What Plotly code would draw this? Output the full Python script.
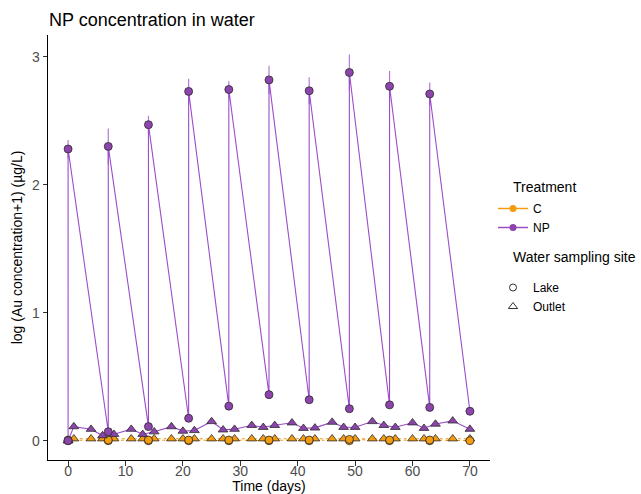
import plotly.graph_objects as go

# ---------------- data ----------------
# Lake, NP treatment (before and after each dose)
lake_np_day = [0, 0, 7, 7, 14, 14, 21, 21, 28, 28, 35, 35, 42, 42, 49, 49, 56, 56, 63, 63, 70]
lake_np_val = [0.0, 2.28, 0.07, 2.30, 0.11, 2.47, 0.175, 2.73, 0.27, 2.745, 0.36, 2.82,
               0.32, 2.735, 0.25, 2.878, 0.28, 2.77, 0.26, 2.71, 0.23]
lake_np_err = [0.0, 0.07, 0.0, 0.14, 0.0, 0.07, 0.0, 0.10, 0.0, 0.065, 0.0, 0.11,
               0.0, 0.105, 0.0, 0.14, 0.0, 0.12, 0.0, 0.09, 0.0]

# Lake, C treatment
lake_c_day = [0, 0, 7, 7, 14, 14, 21, 21, 28, 28, 35, 35, 42, 42, 49, 49, 56, 56, 63, 63, 70]
lake_c_val = [0.0, 0.005, 0.0, 0.005, 0.0, 0.005, 0.0, 0.005, 0.0, 0.005, 0.0, 0.005,
              0.0, 0.005, 0.0, 0.01, 0.0, 0.005, 0.0, 0.005, 0.0]

# Outlet
outlet_day = [0, 1, 4, 6, 8, 11, 13, 15, 18, 20, 22, 25, 27, 29, 32, 34, 36, 39, 41, 43,
              46, 48, 50, 53, 55, 57, 60, 62, 64, 67, 70]
outlet_np_val = [0.0, 0.11, 0.09, 0.04, 0.05, 0.09, 0.05, 0.07, 0.11, 0.075, 0.08, 0.15,
                 0.085, 0.09, 0.12, 0.105, 0.12, 0.14, 0.097, 0.10, 0.145, 0.105, 0.105,
                 0.15, 0.12, 0.105, 0.14, 0.097, 0.13, 0.155, 0.09]
outlet_c_val = [0.0, 0.015, 0.015, 0.015, 0.015, 0.015, 0.015, 0.015, 0.015, 0.015, 0.015,
                0.015, 0.015, 0.015, 0.015, 0.015, 0.015, 0.015, 0.015, 0.015, 0.015,
                0.015, 0.015, 0.015, 0.015, 0.015, 0.015, 0.015, 0.015, 0.015, 0.015]

x_ticks = [0, 10, 20, 30, 40, 50, 60, 70]
y_ticks = [0, 1, 2, 3]

# ---------------- styles ----------------
ORANGE = "#F39C12"
PURPLE = "#8E44AD"
PURPLE_LINE = "#9B4DCA"
EDGE = "#2b2b2b"
FONT = "Liberation Sans, Arial, sans-serif"

W, H = 641, 494
ML, MR, MT, MB = 48, 151, 35, 34
PW, PH = W - ML - MR, H - MT - MB


def px_x(p):
    return (p - ML) / PW


def px_y(p):
    return (H - MB - p) / PH


fig = go.Figure()

# lines (C)
fig.add_trace(go.Scatter(x=lake_c_day, y=lake_c_val, mode="lines",
                         line=dict(color=ORANGE, width=1.1, dash="3px,3px"),
                         showlegend=False, hoverinfo="skip"))
fig.add_trace(go.Scatter(x=outlet_day, y=outlet_c_val, mode="lines",
                         line=dict(color=ORANGE, width=1.1, dash="3px,3px"),
                         showlegend=False, hoverinfo="skip"))
# lines (NP)
fig.add_trace(go.Scatter(x=outlet_day, y=outlet_np_val, mode="lines",
                         line=dict(color=PURPLE_LINE, width=1.1),
                         showlegend=False, hoverinfo="skip"))
fig.add_trace(go.Scatter(x=lake_np_day, y=lake_np_val, mode="lines",
                         line=dict(color=PURPLE_LINE, width=1.1),
                         error_y=dict(type="data", array=lake_np_err, visible=True,
                                      color="#B37BD6", thickness=1.2, width=0),
                         showlegend=False, hoverinfo="skip"))

# points C
fig.add_trace(go.Scatter(x=outlet_day, y=outlet_c_val, mode="markers",
                         marker=dict(symbol="triangle-up", size=8.5, color=ORANGE,
                                     line=dict(color=EDGE, width=0.8)),
                         showlegend=False))
fig.add_trace(go.Scatter(x=lake_c_day, y=lake_c_val, mode="markers",
                         marker=dict(symbol="circle", size=8, color=ORANGE,
                                     line=dict(color=EDGE, width=0.8)),
                         showlegend=False))
# points NP
fig.add_trace(go.Scatter(x=outlet_day, y=outlet_np_val, mode="markers",
                         marker=dict(symbol="triangle-up", size=8.5, color=PURPLE,
                                     line=dict(color=EDGE, width=0.8)),
                         showlegend=False))
fig.add_trace(go.Scatter(x=lake_np_day, y=lake_np_val, mode="markers",
                         marker=dict(symbol="circle", size=8, color=PURPLE,
                                     line=dict(color=EDGE, width=0.8)),
                         showlegend=False))

# legend entries: Treatment
fig.add_trace(go.Scatter(x=[None], y=[None], mode="lines+markers", name="C",
                         line=dict(color=ORANGE, width=1.5),
                         marker=dict(symbol="circle", size=7, color=ORANGE),
                         legend="legend"))
fig.add_trace(go.Scatter(x=[None], y=[None], mode="lines+markers", name="NP",
                         line=dict(color=PURPLE_LINE, width=1.5),
                         marker=dict(symbol="circle", size=7, color=PURPLE),
                         legend="legend"))
# legend entries: site
fig.add_trace(go.Scatter(x=[None], y=[None], mode="markers", name="Lake",
                         marker=dict(symbol="circle-open", size=7, color="black",
                                     line=dict(width=0.8)),
                         legend="legend2"))
fig.add_trace(go.Scatter(x=[None], y=[None], mode="markers", name="Outlet",
                         marker=dict(symbol="triangle-up-open", size=8, color="black",
                                     line=dict(width=0.8)),
                         legend="legend2"))

axis_common = dict(showgrid=False, zeroline=False, showline=True, linecolor="black",
                   linewidth=1, ticks="outside", ticklen=4.5, tickcolor="#333333",
                   tickwidth=1, automargin=False,
                   tickfont=dict(family=FONT, size=14, color="#4d4d4d"))

fig.update_layout(
    width=W, height=H,
    paper_bgcolor="white", plot_bgcolor="white",
    margin=dict(l=ML, r=MR, t=MT, b=MB),
    font=dict(family=FONT, color="black"),
    title=dict(text="NP concentration in water", x=49 / W, xref="container",
               xanchor="left", y=1 - 20 / H, yref="container", yanchor="middle",
               font=dict(family=FONT, size=18, color="black")),
    xaxis=dict(range=[-3.5, 73.5], tickvals=x_ticks, ticklabelstandoff=-6,
               title=dict(text="Time (days)", font=dict(family=FONT, size=14), standoff=3),
               **axis_common),
    yaxis=dict(range=[-0.151, 3.171], tickvals=y_ticks,
               title=dict(text="log (Au concentration+1) (µg/L)",
                          font=dict(family=FONT, size=14), standoff=6),
               **axis_common),
    legend=dict(x=px_x(493), xanchor="left", y=px_y(194), yanchor="top",
                font=dict(family=FONT, size=12), bgcolor="rgba(0,0,0,0)",
                itemwidth=30, tracegroupgap=0),
    legend2=dict(x=px_x(493), xanchor="left", y=px_y(273), yanchor="top",
                 font=dict(family=FONT, size=12), bgcolor="rgba(0,0,0,0)",
                 itemwidth=30, tracegroupgap=0),
    annotations=[
        dict(text="Treatment", x=px_x(511), y=px_y(187), xref="paper", yref="paper",
             xanchor="left", yanchor="middle", showarrow=False,
             font=dict(family=FONT, size=14, color="black")),
        dict(text="Water sampling site", x=px_x(511), y=px_y(257), xref="paper",
             yref="paper", xanchor="left", yanchor="middle", showarrow=False,
             font=dict(family=FONT, size=14, color="black")),
    ],
)

fig.write_html("out.html", config={"displayModeBar": False},
               post_script="document.body.style.margin='0px';")
